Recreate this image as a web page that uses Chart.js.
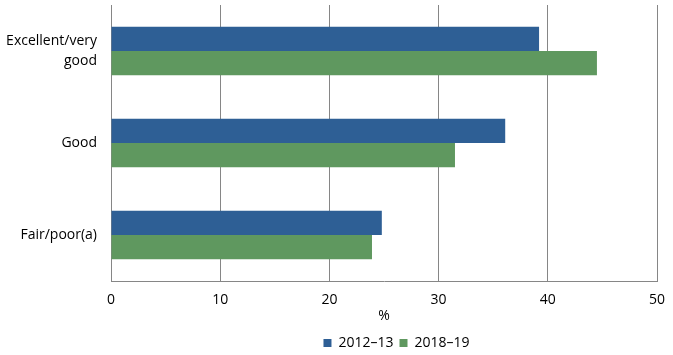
<!DOCTYPE html>
<html><head><meta charset="utf-8">
<script src="https://cdn.jsdelivr.net/npm/chart.js@4/dist/chart.umd.min.js"></script>
<style>html,body{margin:0;padding:0;background:#fff}#wrap{width:673px;height:355px}</style>
</head><body><div id="wrap"><canvas id="c" width="673" height="355"></canvas></div>
<script>
const categories = [["Excellent/very", "good"], "Good", "Fair/poor(a)"];
const series2012 = [39.2, 36.1, 24.8];
const series2018 = [44.5, 31.5, 23.9];
const seriesNames = ["2012\u201313", "2018\u201319"];
const xTicks = [0, 10, 20, 30, 40, 50];

const font = {family: "'Open Sans', 'Liberation Sans', Arial, sans-serif", size: 14, lineHeight: 1.35};
const yFont = {family: "'Open Sans', 'Liberation Sans', Arial, sans-serif", size: 14, lineHeight: 1.45};
Chart.defaults.font = font;
Chart.defaults.color = "#000";

const legendShift = {
  id: 'legendShift',
  afterLayout(chart) {
    const lg = chart.legend;
    if (!lg) return;
    const dx = 68, dy = 5;
    lg.left += dx; lg.right += dx;
    lg.top += dy; lg.bottom += dy;
  }
};

new Chart(document.getElementById('c'), {
  type: 'bar',
  data: {
    labels: categories,
    datasets: [
      {label: seriesNames[0], data: series2012, backgroundColor: '#2E5F95'},
      {label: seriesNames[1], data: series2018, backgroundColor: '#5F985F'}
    ]
  },
  plugins: [legendShift],
  options: {
    indexAxis: 'y',
    responsive: false,
    animation: false,
    devicePixelRatio: 1,
    categoryPercentage: 0.525,
    barPercentage: 1,
    layout: {padding: {top: 5, right: 16, left: 0, bottom: 0}},
    plugins: {
      legend: {
        position: 'bottom',
        labels: {boxWidth: 8, boxHeight: 8, padding: 6, font: font, color: '#000'}
      },
      tooltip: {enabled: false}
    },
    scales: {
      x: {
        min: 0, max: 50,
        afterBuildTicks: (ax) => { ax.ticks = xTicks.map(v => ({value: v})); },
        grid: {color: '#868686', drawTicks: false},
        border: {color: '#868686'},
        ticks: {padding: 10, font: font, color: '#000'},
        title: {display: true, text: '%', font: font, color: '#000', padding: {top: 0, bottom: 0}},
        afterFit: (ax) => { ax.height = 44; ax.paddingLeft = 0; ax.paddingRight = 0; }
      },
      y: {
        grid: {display: false, drawTicks: false},
        border: {display: true, color: '#868686'},
        ticks: {padding: 14, font: yFont, color: '#000'},
        afterFit: (ax) => { ax.width = 111; ax.paddingTop = 0; ax.paddingBottom = 0; }
      }
    }
  }
});
</script></body></html>
